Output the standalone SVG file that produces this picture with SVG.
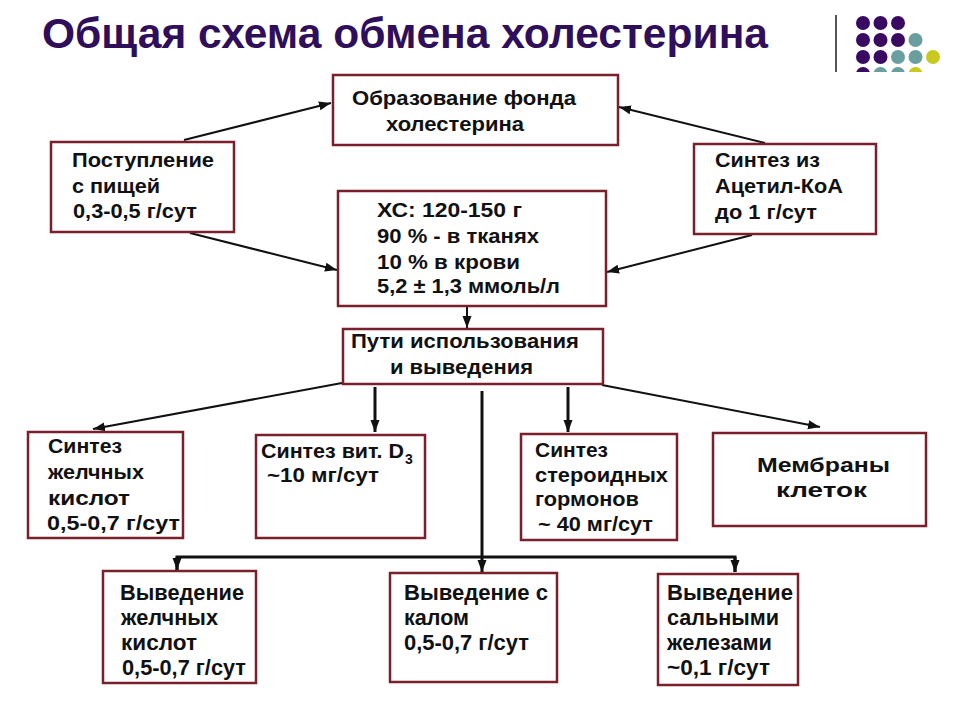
<svg xmlns="http://www.w3.org/2000/svg" width="960" height="720" viewBox="0 0 960 720">
<defs>
<style>
.box{fill:#fff;stroke:#7a1f2c;stroke-width:2.5}
.t{font-family:"Liberation Sans",Arial,sans-serif;font-weight:bold;font-size:20.5px;fill:#111}
.b{font-size:22.5px}
.ln{stroke:#111;stroke-width:2;fill:none}
.lt{stroke:#111;stroke-width:3;fill:none}
.dp{fill:#3a0a63}.dt{fill:#6a9fa0}.dy{fill:#c9c920}
</style>
<marker id="ah" markerUnits="userSpaceOnUse" markerWidth="13" markerHeight="10" refX="12" refY="5" orient="auto">
<path d="M0,0.5 L12,5 L0,9.5 Z" fill="#111"/>
</marker>
</defs>
<rect width="960" height="720" fill="#fff"/>
<g id="title">
<text x="42" y="48" font-family="'Liberation Sans',Arial,sans-serif" font-weight="bold" font-size="42" fill="#2f0f5a" textLength="726" lengthAdjust="spacingAndGlyphs">Общая схема обмена холестерина</text>
</g>
<g id="decor">
<line x1="836" y1="15" x2="836" y2="72" stroke="#555" stroke-width="2"/>
<circle class="dp" cx="863" cy="23" r="7"/><circle class="dp" cx="880.5" cy="23" r="7"/><circle class="dp" cx="898" cy="23" r="7"/>
<circle class="dp" cx="863" cy="40" r="7"/><circle class="dp" cx="880.5" cy="40" r="7"/><circle class="dp" cx="898" cy="40" r="7"/><circle class="dt" cx="915.5" cy="40" r="7"/>
<circle class="dp" cx="863" cy="57" r="7"/><circle class="dp" cx="880.5" cy="57" r="7"/><circle class="dt" cx="898" cy="57" r="7"/><circle class="dt" cx="915.5" cy="57" r="7"/><circle class="dy" cx="933" cy="57" r="7"/>
<clipPath id="cr"><rect x="850" y="66" width="100" height="6"/></clipPath>
<g clip-path="url(#cr)"><circle class="dp" cx="863" cy="74" r="7"/><circle class="dt" cx="880.5" cy="74" r="7"/><circle class="dt" cx="898" cy="74" r="7"/><circle class="dy" cx="915.5" cy="74" r="7"/></g>
</g>
<g id="connectors">
<line class="ln" x1="184" y1="140" x2="331" y2="103" marker-end="url(#ah)"/>
<line class="ln" x1="765" y1="143" x2="619" y2="107" marker-end="url(#ah)"/>
<line class="ln" x1="190" y1="233" x2="337" y2="270" marker-end="url(#ah)"/>
<line class="ln" x1="752" y1="235" x2="607" y2="272" marker-end="url(#ah)"/>
<line class="ln" x1="467" y1="307" x2="467" y2="328" marker-end="url(#ah)"/>
<line class="ln" x1="342" y1="383" x2="93" y2="429" marker-end="url(#ah)"/>
<line class="lt" x1="375" y1="387" x2="375" y2="432" marker-end="url(#ah)"/>
<line class="lt" x1="568" y1="387" x2="568" y2="432" marker-end="url(#ah)"/>
<line class="ln" x1="602" y1="385" x2="820" y2="427" marker-end="url(#ah)"/>
<line class="lt" x1="482" y1="391" x2="482" y2="572" marker-end="url(#ah)"/>
<polyline class="lt" points="177,570 177,557 735,557 735,572"/>
<line class="lt" x1="177" y1="557" x2="177" y2="570" marker-end="url(#ah)"/>
<line class="lt" x1="735" y1="557" x2="735" y2="572" marker-end="url(#ah)"/>
</g>
<g id="fond">
<rect class="box" x="333" y="75" width="285" height="70"/>
<text class="t" x="352" y="105" textLength="224" lengthAdjust="spacingAndGlyphs">Образование фонда</text>
<text class="t" x="386" y="131" textLength="138" lengthAdjust="spacingAndGlyphs">холестерина</text>
</g>
<g id="food">
<rect class="box" x="51" y="142" width="183" height="90"/>
<text class="t" x="72" y="167" textLength="142" lengthAdjust="spacingAndGlyphs">Поступление</text>
<text class="t" x="72" y="193" textLength="88" lengthAdjust="spacingAndGlyphs">с пищей</text>
<text class="t" x="73" y="218" textLength="124" lengthAdjust="spacingAndGlyphs">0,3-0,5 г/сут</text>
</g>
<g id="synth">
<rect class="box" x="694" y="144" width="182" height="90"/>
<text class="t" x="715" y="167" textLength="105" lengthAdjust="spacingAndGlyphs">Синтез из</text>
<text class="t" x="715" y="193" textLength="128" lengthAdjust="spacingAndGlyphs">Ацетил-КоА</text>
<text class="t" x="715" y="219" textLength="102" lengthAdjust="spacingAndGlyphs">до 1 г/сут</text>
</g>
<g id="xc">
<rect class="box" x="338" y="191" width="268" height="115"/>
<text class="t" x="377" y="217" textLength="145" lengthAdjust="spacingAndGlyphs">ХС: 120-150 г</text>
<text class="t" x="377" y="243" textLength="162" lengthAdjust="spacingAndGlyphs">90 % - в тканях</text>
<text class="t" x="377" y="269" textLength="143" lengthAdjust="spacingAndGlyphs">10 % в крови</text>
<text class="t" x="377" y="293" textLength="183" lengthAdjust="spacingAndGlyphs">5,2 ± 1,3 ммоль/л</text>
</g>
<g id="paths">
<rect class="box" x="343" y="329" width="260" height="55"/>
<text class="t" x="351" y="348" textLength="228" lengthAdjust="spacingAndGlyphs">Пути использования</text>
<text class="t" x="390" y="374" textLength="143" lengthAdjust="spacingAndGlyphs">и выведения</text>
</g>
<g id="bileSynth">
<rect class="box" x="28" y="432" width="155" height="106"/>
<text class="t" x="48" y="453" textLength="74" lengthAdjust="spacingAndGlyphs">Синтез</text>
<text class="t" x="48" y="479" textLength="96" lengthAdjust="spacingAndGlyphs">желчных</text>
<text class="t" x="48" y="505" textLength="82" lengthAdjust="spacingAndGlyphs">кислот</text>
<text class="t" x="47" y="530" textLength="133" lengthAdjust="spacingAndGlyphs">0,5-0,7 г/сут</text>
</g>
<g id="vitD">
<rect class="box" x="256" y="435" width="169" height="103"/>
<text class="t" x="261" y="458"><tspan textLength="143" lengthAdjust="spacingAndGlyphs">Синтез вит. D</tspan><tspan x="405" y="464" font-size="14">3</tspan></text>
<text class="t" x="267" y="482" textLength="112" lengthAdjust="spacingAndGlyphs">~10 мг/сут</text>
</g>
<g id="steroid">
<rect class="box" x="521" y="434" width="156" height="106"/>
<text class="t" x="535" y="457" textLength="73" lengthAdjust="spacingAndGlyphs">Синтез</text>
<text class="t" x="535" y="482" textLength="133" lengthAdjust="spacingAndGlyphs">стероидных</text>
<text class="t" x="535" y="506" textLength="104" lengthAdjust="spacingAndGlyphs">гормонов</text>
<text class="t" x="538" y="531" textLength="115" lengthAdjust="spacingAndGlyphs">~ 40 мг/сут</text>
</g>
<g id="membr">
<rect class="box" x="713" y="433" width="213" height="93"/>
<text class="t" x="757" y="472" textLength="133" lengthAdjust="spacingAndGlyphs">Мембраны</text>
<text class="t" x="776" y="497" textLength="91" lengthAdjust="spacingAndGlyphs">клеток</text>
</g>
<g id="outBile">
<rect class="box" x="103" y="571" width="153" height="112"/>
<text class="t b" x="120" y="600" textLength="124" lengthAdjust="spacingAndGlyphs">Выведение</text>
<text class="t b" x="121" y="625" textLength="97" lengthAdjust="spacingAndGlyphs">желчных</text>
<text class="t b" x="121" y="650" textLength="76" lengthAdjust="spacingAndGlyphs">кислот</text>
<text class="t b" x="122" y="675" textLength="124" lengthAdjust="spacingAndGlyphs">0,5-0,7 г/сут</text>
</g>
<g id="outFeces">
<rect class="box" x="390" y="573" width="167" height="109"/>
<text class="t b" x="404" y="600" textLength="144" lengthAdjust="spacingAndGlyphs">Выведение с</text>
<text class="t b" x="404" y="625" textLength="65" lengthAdjust="spacingAndGlyphs">калом</text>
<text class="t b" x="404" y="650" textLength="125" lengthAdjust="spacingAndGlyphs">0,5-0,7 г/сут</text>
</g>
<g id="outSebum">
<rect class="box" x="658" y="574" width="140" height="111"/>
<text class="t b" x="667" y="600" textLength="126" lengthAdjust="spacingAndGlyphs">Выведение</text>
<text class="t b" x="667" y="625" textLength="112" lengthAdjust="spacingAndGlyphs">сальными</text>
<text class="t b" x="667" y="650" textLength="105" lengthAdjust="spacingAndGlyphs">железами</text>
<text class="t b" x="667" y="675" textLength="103" lengthAdjust="spacingAndGlyphs">~0,1 г/сут</text>
</g>
</svg>
